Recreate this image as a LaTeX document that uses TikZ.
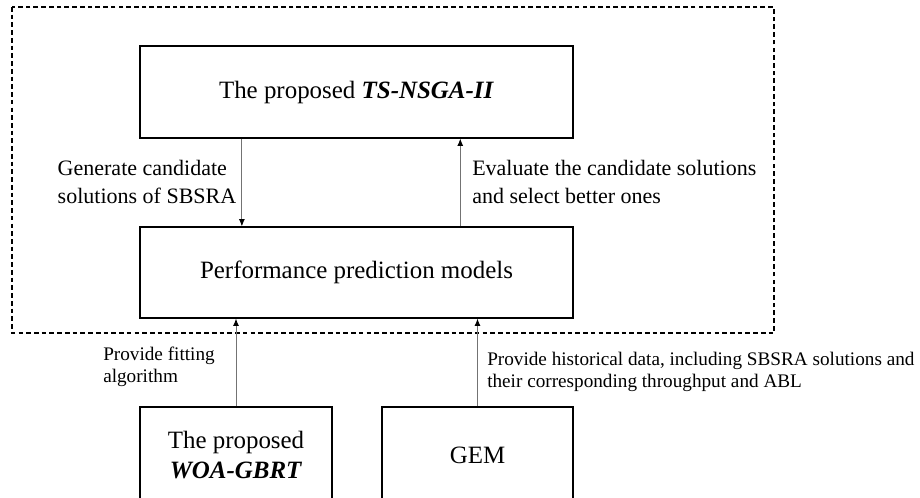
\documentclass[tikz,border=0pt]{standalone}
\usepackage{fontspec}
\setmainfont{Liberation Serif}
\usetikzlibrary{arrows.meta,positioning,calc}

\begin{document}
\begin{tikzpicture}[x=0.75pt, y=-0.75pt]
    \tikzstyle{box}=[draw, line width=0.9pt, inner sep=0pt, align=center, font=\fontsize{18.7}{22}\selectfont]
    \tikzstyle{arr}=[draw=black!55, line width=0.7pt, -{Latex[length=5.5pt, width=4.5pt, black]}]
    \tikzstyle{lbl}=[inner sep=0pt, align=left, font=\fontsize{16.5}{21}\selectfont]
    \tikzstyle{smalllbl}=[inner sep=0pt, align=left, font=\fontsize{14.4}{16.5}\selectfont]
    \clip (0,0) rectangle (920,497);
    \draw[line width=0.8pt, dash pattern=on 3.5pt off 2.3pt] (12,7) rectangle (774,333);
    \node[box, minimum width=324.75pt, minimum height=69pt] (tsnsga) at (356.5,92) {The proposed \textbf{\textit{TS-NSGA-II}}};
    \node[box, minimum width=324.75pt, minimum height=68.25pt] (pred) at (356.5,272.5) {Performance prediction models};
    \node[box, minimum width=144pt, minimum height=72pt] (woa) at (236,455) {The proposed\\\textbf{\textit{WOA-GBRT}}};
    \node[box, minimum width=143.25pt, minimum height=72pt] (gem) at (477.5,455) {GEM};
    \coordinate (gen) at ($(tsnsga.south west)!0.236!(tsnsga.south east)$);
    \coordinate (eval) at ($(tsnsga.south west)!0.739!(tsnsga.south east)$);
    \draw[arr] (gen) -- (gen |- pred.north);
    \draw[arr] (eval |- pred.north) -- (eval);
    \draw[arr] (woa.north) -- (woa.north |- pred.south);
    \draw[arr] (gem.north) -- (gem.north |- pred.south);
    \node[lbl, anchor=east] (genlbl) at (236.5,182) {Generate candidate\\solutions of SBSRA};
    \node[lbl, anchor=west] (evallbl) at (472,182) {Evaluate the candidate solutions\\and select better ones};
    \node[smalllbl, anchor=west] (fitlbl) at (103,367) {Provide fitting\\algorithm};
    \node[smalllbl, anchor=west] (datalbl) at (487,372) {Provide historical data, including SBSRA solutions and\\their corresponding throughput and ABL};
\end{tikzpicture}
\end{document}
